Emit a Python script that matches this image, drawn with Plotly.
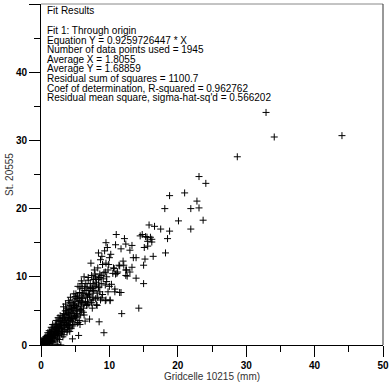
import plotly.graph_objects as go

# ---- data ----
x_vals = [
    0.05,0.1,0.15,0.2,0.25,0.3,0.35,0.4,0.45,0.5,0.55,0.6,0.65,0.7,0.75,0.8,0.85,0.9,0.95,1.0,0.3,0.6,0.15,0.5,0.8,
    1.05,1.1,1.15,1.2,1.25,1.3,1.35,1.4,1.45,1.5,1.55,1.6,1.65,1.7,1.75,1.8,1.85,1.9,1.95,2.0,1.2,1.5,1.7,1.3,1.9,
    2.05,2.1,2.15,2.2,2.25,2.3,2.35,2.4,2.45,2.5,2.55,2.6,2.65,2.7,2.75,2.8,2.85,2.9,2.95,3.0,2.2,2.5,2.8,2.4,2.7,
    3.05,3.1,3.15,3.2,3.25,3.3,3.35,3.4,3.45,3.5,3.55,3.6,3.65,3.7,3.75,3.8,3.85,3.9,3.95,4.0,3.3,3.6,3.2,3.8,
    4.05,4.1,4.15,4.2,4.25,4.3,4.35,4.4,4.45,4.5,4.55,4.6,4.65,4.7,4.75,4.8,4.85,4.9,4.95,5.0,4.6,4.3,4.8,4.2,
    5.05,5.1,5.15,5.2,5.3,5.35,5.4,5.5,5.5,5.6,5.65,5.7,5.8,5.85,5.9,6.0,6.0,5.4,5.7,5.95,
    6.1,6.2,6.25,6.3,6.4,6.5,6.55,6.6,6.7,6.75,6.8,6.9,7.0,6.3,6.45,7.0,
    7.1,7.1,7.2,7.3,7.4,7.5,7.6,7.7,7.8,7.9,8.0,7.5,8.0,7.3,
    8.1,8.2,8.3,8.4,8.5,8.6,8.7,8.8,8.9,9.0,8.4,8.9,8.2,
    9.2,9.2,9.3,9.4,9.5,9.6,9.7,9.8,10.0,10.1,10.0,9.5,
    10.2,10.5,10.8,10.9,11.1,11.4,11.5,11.7,11.8,12.0,12.2,11.0,
    12.4,12.4,12.6,13.0,13.3,13.9,13.9,14.3,14.5,15.0,15.0,15.1,15.2,15.3,14.8,
    15.8,16.0,16.2,16.4,16.6,17.5,18.1,18.2,18.5,18.8,18.8,15.6,
    20.1,21.0,21.9,21.9,22.8,23.1,23.1,23.7,24.1,28.7,32.9,34.1,44.0,
    15.5,15.6,13.5,12.1,11.5,13.3,12.5,10.7,9.4,13.0,10.9,12.4,16.2,
    8.0,8.6,6.9,5.9,7.6,8.5,9.4,10.3,5.7,6.4,7.2,7.6,8.6,9.8,10.8,11.7,5.0,7.1,7.6,8.7,9.5,10.1,4.0,6.7,8.1,11.2,10.6,
    0.2,0.4,0.7,1.0,1.3,1.6,2.0,2.3,2.6,3.0,3.4,3.7,4.1,4.4,4.8,5.2,5.6,0.9,1.6,2.4,3.1,3.9,4.6,5.3,
    1.1,1.4,1.8,2.1,2.3,2.6,2.9,1.6,2.2,2.8,1.0,0.5,
    3.2,3.5,3.8,4.1,4.4,4.7,3.4,4.0,4.5,4.9,3.7,4.2,
    5.2,5.4,5.6,5.9,6.1,6.3,6.6,6.9,5.3,5.8,6.2,6.8,5.1,6.0,
    7.3,7.7,8.1,8.4,8.8,9.1,7.9,8.3,9.0,9.6,9.9,7.4,
]
y_vals = [
    0.0,0.1,0.3,0.0,0.5,0.2,0.8,0.4,0.0,0.6,1.0,0.3,0.7,1.2,0.5,0.9,0.1,1.4,0.7,1.1,0.5,0.9,0.6,0.2,0.4,
    0.3,0.8,1.5,1.0,0.0,1.8,1.2,0.6,2.0,1.4,0.9,1.7,2.3,1.1,0.4,2.0,1.5,2.6,0.9,1.9,2.1,2.6,3.0,0.2,0.0,
    2.4,1.3,2.9,0.6,2.0,3.2,1.7,2.6,0.1,3.5,2.2,1.4,3.0,2.6,3.8,1.9,2.9,0.0,3.4,2.4,3.6,4.0,4.3,1.0,0.8,
    3.1,4.1,2.0,3.6,2.6,4.6,1.5,3.3,4.0,2.9,5.0,3.7,2.3,4.4,3.2,5.4,4.0,2.8,4.8,3.6,5.6,6.0,1.2,1.9,
    4.4,5.2,3.0,4.0,5.8,3.6,4.8,2.4,5.3,4.2,6.3,3.4,5.0,4.6,6.0,3.9,5.5,4.3,6.6,5.0,0.9,7.0,7.5,2.0,
    4.0,5.8,6.8,4.6,5.3,7.2,3.3,6.0,1.4,5.0,7.7,6.5,4.4,5.7,7.0,6.2,8.3,8.6,3.0,5.0,
    6.8,5.4,7.5,4.4,8.0,6.4,9.0,7.2,5.8,8.5,7.0,9.5,6.0,10.0,3.5,8.0,
    3.8,7.5,9.0,6.6,10.2,8.3,7.0,9.6,11.0,8.6,6.8,5.4,10.0,12.0,
    9.2,7.6,11.3,8.4,3.4,10.4,12.5,9.0,6.9,11.8,13.5,13.0,5.8,
    1.8,10.6,13.8,6.5,12.0,9.3,14.3,11.0,12.8,6.6,8.6,15.0,
    13.3,10.5,8.2,14.7,10.5,11.7,7.7,14.1,4.6,12.3,15.6,16.2,
    14.8,11.0,10.1,13.9,14.6,12.8,9.8,5.4,16.0,9.0,11.7,14.3,12.6,15.9,16.2,
    17.6,15.8,15.5,13.0,17.4,17.0,20.0,13.5,15.6,16.7,21.9,15.2,
    18.2,22.3,20.0,17.0,21.1,20.1,24.7,18.3,23.7,27.6,34.1,30.5,30.7,
    15.8,14.5,12.8,11.7,11.6,11.4,11.0,11.2,10.7,10.7,10.4,10.2,15.1,
    9.8,9.9,9.9,9.4,9.0,8.5,8.8,8.9,8.5,8.6,8.3,7.8,7.8,7.8,7.8,7.7,7.1,7.2,6.6,6.6,6.6,6.5,6.5,5.9,5.9,10.7,11.3,
    0.2,0.3,0.6,0.7,1.3,1.2,1.4,2.2,1.8,1.6,2.8,3.0,2.6,3.9,3.0,4.2,3.6,0.2,0.5,1.6,2.0,2.2,2.8,3.2,
    1.2,1.6,1.1,2.0,2.7,2.0,2.8,0.6,1.5,3.5,1.8,1.0,
    3.9,4.5,3.5,4.6,5.6,5.3,2.2,2.9,3.7,5.8,5.1,6.2,
    5.6,6.4,6.9,6.2,7.6,6.0,8.0,7.4,4.4,5.2,4.8,6.3,7.5,9.0,
    8.4,8.0,8.8,9.6,10.2,9.7,10.4,7.0,7.4,10.0,11.8,6.2,
]

fit_title = "Fit Results"
fit_lines = [
    "Fit 1: Through origin",
    "Equation Y = 0.9259726447 * X",
    "Number of data points used = 1945",
    "Average X = 1.8055",
    "Average Y = 1.68859",
    "Residual sum of squares = 1100.7",
    "Coef of determination, R-squared = 0.962762",
    "Residual mean square, sigma-hat-sq'd = 0.566202",
]

W, H = 389, 384
L, R, T, B = 41, 6, 4, 39
ph = H - T - B

def py(p):
    return (H - B - p) / ph

FONT = "Liberation Sans, Arial, sans-serif"

fig = go.Figure(go.Scatter(
    x=x_vals, y=y_vals, mode="markers",
    marker=dict(symbol="cross-thin", size=5, color="black",
                line=dict(color="black", width=1)),
    hoverinfo="skip", showlegend=False,
))

ann = [dict(text=fit_title, x=(45 - L) / (W - L - R), y=py(10.5))]
for i, t in enumerate(fit_lines):
    ann.append(dict(text=t, x=(45 - L) / (W - L - R), y=py(30.5 + 9.6 * i)))
for a in ann:
    a.update(xref="paper", yref="paper", xanchor="left", yanchor="middle",
             showarrow=False, font=dict(family=FONT, size=10, color="black"))

axis_common = dict(
    range=[0, 50], dtick=10, tick0=0, ticks="outside", ticklen=11, tickwidth=1,
    tickcolor="black", showline=True, linecolor="black", linewidth=1,
    showgrid=False, zeroline=False,
    tickfont=dict(family=FONT, size=10, color="black", weight="bold"),
    minor=dict(dtick=5, tick0=0, ticks="outside", ticklen=6, tickwidth=1,
               tickcolor="black", showgrid=False),
)

fig.update_layout(
    width=W, height=H,
    margin=dict(l=L, r=R, t=T, b=B, autoexpand=False),
    paper_bgcolor="white", plot_bgcolor="white",
    xaxis=dict(**axis_common,
               title=dict(text="Gridcelle 10215 (mm)", standoff=2,
                          font=dict(family=FONT, size=10, color="#333"))),
    yaxis=dict(**axis_common,
               title=dict(text="St. 20555", standoff=0,
                          font=dict(family=FONT, size=10, color="#333"))),
    annotations=ann,
    shapes=[
        dict(type="line", xref="paper", yref="paper", x0=0, x1=1, y0=1, y1=1,
             line=dict(color="#888888", width=1)),
        dict(type="line", xref="paper", yref="paper", x0=1, x1=1, y0=0, y1=1,
             line=dict(color="#333333", width=1)),
    ],
)

fig.write_html("out.html", config={"displayModeBar": False},
               post_script="document.body.style.margin='0';document.body.style.overflow='hidden';")
